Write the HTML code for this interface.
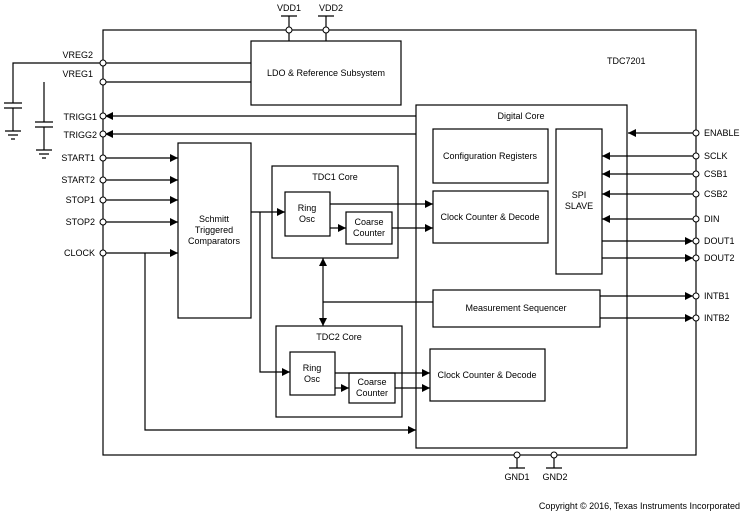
<!DOCTYPE html>
<html><head><style>body{margin:0;background:#fff}svg{display:block}text{font-family:"Liberation Sans",Arial,sans-serif;font-size:9px;fill:#000}</style></head><body>
<svg width="742" height="512" viewBox="0 0 742 512" xmlns="http://www.w3.org/2000/svg">
<defs><marker id="a" markerUnits="userSpaceOnUse" markerWidth="9" markerHeight="8" refX="8" refY="4" orient="auto"><path d="M0,0L8,4L0,8z" fill="#000"/></marker></defs>
<g stroke="#000" stroke-width="1.2" fill="none">
<rect x="103" y="30" width="593" height="425"/>
<rect x="251" y="41" width="150" height="64"/>
<rect x="178" y="143" width="73" height="175"/>
<rect x="416" y="105" width="211" height="343"/>
<rect x="433" y="129" width="115" height="54"/>
<rect x="433" y="191" width="115" height="52"/>
<rect x="556" y="129" width="46" height="145"/>
<rect x="433" y="290" width="167" height="37"/>
<rect x="430" y="349" width="115" height="52"/>
<rect x="272" y="166" width="126" height="92"/>
<rect x="285" y="192" width="45" height="44"/>
<rect x="346" y="212" width="46" height="32"/>
<rect x="276" y="326" width="126" height="91"/>
<rect x="290" y="352" width="45" height="43"/>
<rect x="349" y="373" width="46" height="30"/>
<path d="M289,30V16M281,16H297M326,30V16M318,16H334M289,30V41M326,30V41"/>
<path d="M517,455V468M509,468H525M554,455V468M546,468H562"/>
<path d="M103,63H251M103,82H251M103,63H13V103M4,103H22M4,108H22M13,108V131M5,131H21M8,135H18M11,139H15"/>
<path d="M44,82V122M35,122H53M35,127H53M44,127V150M36,150H52M39,154H49M42,158H46"/>
<path d="M416,116H105" marker-end="url(#a)"/>
<path d="M416,134H105" marker-end="url(#a)"/>
<path d="M106,158H178" marker-end="url(#a)"/>
<path d="M106,180H178" marker-end="url(#a)"/>
<path d="M106,200H178" marker-end="url(#a)"/>
<path d="M106,222H178" marker-end="url(#a)"/>
<path d="M106,253H178" marker-end="url(#a)"/>
<path d="M145,253V430H416" marker-end="url(#a)"/>
<path d="M251,212H285" marker-end="url(#a)"/>
<path d="M260,212V372H290" marker-end="url(#a)"/>
<path d="M330,204H433" marker-end="url(#a)"/>
<path d="M330,228H346" marker-end="url(#a)"/>
<path d="M392,228H433" marker-end="url(#a)"/>
<path d="M335,373H430" marker-end="url(#a)"/>
<path d="M335,388H349" marker-end="url(#a)"/>
<path d="M395,388H430" marker-end="url(#a)"/>
<path d="M323,302V258" marker-end="url(#a)"/>
<path d="M323,302V326" marker-end="url(#a)"/>
<path d="M323,302H433"/>
<path d="M693,133H628" marker-end="url(#a)"/>
<path d="M693,156H602" marker-end="url(#a)"/>
<path d="M693,174H602" marker-end="url(#a)"/>
<path d="M693,194H602" marker-end="url(#a)"/>
<path d="M693,219H602" marker-end="url(#a)"/>
<path d="M602,241H693" marker-end="url(#a)"/>
<path d="M602,258H693" marker-end="url(#a)"/>
<path d="M600,296H693" marker-end="url(#a)"/>
<path d="M600,318H693" marker-end="url(#a)"/>
</g>
<g stroke="#000" stroke-width="1" fill="#fff">
<circle cx="289" cy="30" r="3"/><circle cx="326" cy="30" r="3"/>
<circle cx="517" cy="455" r="3"/><circle cx="554" cy="455" r="3"/>
<circle cx="103" cy="63" r="3"/><circle cx="103" cy="82" r="3"/><circle cx="103" cy="116" r="3"/><circle cx="103" cy="134" r="3"/>
<circle cx="103" cy="158" r="3"/><circle cx="103" cy="180" r="3"/><circle cx="103" cy="200" r="3"/><circle cx="103" cy="222" r="3"/><circle cx="103" cy="253" r="3"/>
<circle cx="696" cy="133" r="3"/><circle cx="696" cy="156" r="3"/><circle cx="696" cy="174" r="3"/><circle cx="696" cy="194" r="3"/><circle cx="696" cy="219" r="3"/><circle cx="696" cy="241" r="3"/><circle cx="696" cy="258" r="3"/><circle cx="696" cy="296" r="3"/><circle cx="696" cy="318" r="3"/>
</g>
<g text-anchor="end">
<text x="93" y="58">VREG2</text><text x="93" y="77">VREG1</text>
<text x="97" y="120">TRIGG1</text><text x="97" y="138">TRIGG2</text>
<text x="95" y="161">START1</text><text x="95" y="183">START2</text><text x="95" y="203">STOP1</text><text x="95" y="225">STOP2</text><text x="95" y="256">CLOCK</text>
<text x="740" y="509">Copyright © 2016, Texas Instruments Incorporated</text>
</g>
<g>
<text x="704" y="136">ENABLE</text><text x="704" y="159">SCLK</text><text x="704" y="177">CSB1</text><text x="704" y="197">CSB2</text><text x="704" y="222">DIN</text><text x="704" y="244">DOUT1</text><text x="704" y="261">DOUT2</text><text x="704" y="299">INTB1</text><text x="704" y="321">INTB2</text>
<text x="607" y="64">TDC7201</text>
</g>
<g text-anchor="middle">
<text x="289" y="11">VDD1</text><text x="331" y="11">VDD2</text>
<text x="517" y="480">GND1</text><text x="555" y="480">GND2</text>
<text x="326" y="76">LDO &amp; Reference Subsystem</text>
<text x="521" y="119">Digital Core</text>
<text x="490" y="159">Configuration Registers</text>
<text x="490" y="220">Clock Counter &amp; Decode</text>
<text x="487" y="378">Clock Counter &amp; Decode</text>
<text x="516" y="311">Measurement Sequencer</text>
<text x="579" y="198">SPI</text><text x="579" y="209">SLAVE</text>
<text x="214" y="222">Schmitt</text><text x="214" y="233">Triggered</text><text x="214" y="244">Comparators</text>
<text x="335" y="180">TDC1 Core</text><text x="339" y="340">TDC2 Core</text>
<text x="307" y="211">Ring</text><text x="307" y="222">Osc</text>
<text x="312" y="371">Ring</text><text x="312" y="382">Osc</text>
<text x="369" y="225">Coarse</text><text x="369" y="236">Counter</text>
<text x="372" y="385">Coarse</text><text x="372" y="396">Counter</text>
</g>
</svg>
</body></html>
